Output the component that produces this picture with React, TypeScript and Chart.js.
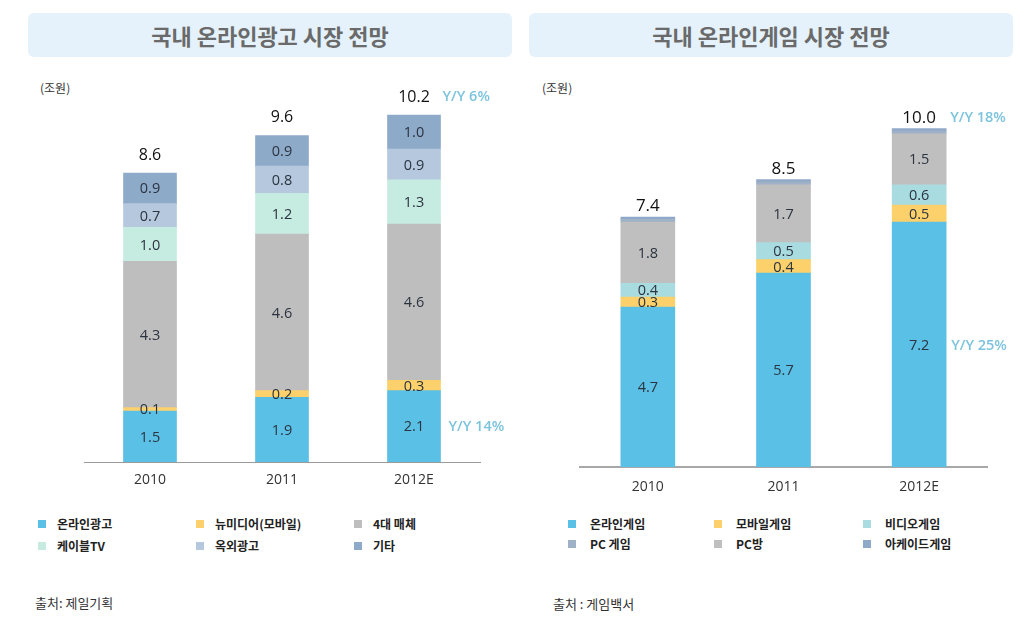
import React, { useEffect, useRef } from "react";
import { Chart, registerables } from "chart.js";
Chart.register(...registerables);

// ---------- data ----------
const years = ["2010", "2011", "2012E"];

// 국내 온라인광고 시장 (조원)
const adOnline = [1.5, 1.9, 2.1];
const adNewMedia = [0.1, 0.2, 0.3];
const adMajor4 = [4.3, 4.6, 4.6];
const adCable = [1.0, 1.2, 1.3];
const adOutdoor = [0.7, 0.8, 0.9];
const adEtc = [0.9, 0.9, 1.0];
const adTotals = ["8.6", "9.6", "10.2"];

// 국내 온라인게임 시장 (조원)
const gameOnline = [4.7, 5.7, 7.2];
const gameMobile = [0.3, 0.4, 0.5];
const gameVideo = [0.4, 0.5, 0.6];
const gamePcBang = [1.8, 1.7, 1.5];
const gamePc = [0.08, 0.08, 0.08];
const gameArcade = [0.07, 0.07, 0.07];
const gameTotals = ["7.4", "8.5", "10.0"];

const NUM = "'Open Sans', 'DejaVu Sans', sans-serif";
const KR = "'Noto Sans CJK KR', 'Noto Sans', sans-serif";

const segPlugin = {
  id: "segLabels",
  afterDatasetsDraw(chart: any, _a: any, opts: any) {
    const ctx = chart.ctx;
    ctx.save();
    ctx.textAlign = "center";
    ctx.textBaseline = "middle";
    const labeled: number[] = opts.labeled || [];
    chart.data.datasets.forEach((ds: any, di: number) => {
      if (labeled.indexOf(di) < 0) return;
      const meta = chart.getDatasetMeta(di);
      meta.data.forEach((bar: any, i: number) => {
        const v = ds.data[i];
        ctx.font = opts.segFont;
        ctx.fillStyle = opts.segColor;
        ctx.fillText(Number(v).toFixed(1), bar.x, (bar.y + bar.base) / 2 + 1);
      });
    });
    const last = chart.getDatasetMeta(chart.data.datasets.length - 1);
    last.data.forEach((bar: any, i: number) => {
      ctx.font = opts.totalFont;
      ctx.fillStyle = "#111";
      ctx.fillText(opts.totals[i], bar.x, bar.y - opts.totalOffset);
    });
    (opts.notes || []).forEach((n: any) => {
      const meta = chart.getDatasetMeta(n.dataset);
      const bar = meta.data[n.index];
      const yy = n.top ? bar.y - opts.totalOffset : (bar.y + bar.base) / 2 + 1;
      ctx.font = opts.noteFont;
      ctx.fillStyle = "#7cc3dd";
      ctx.textAlign = "left";
      ctx.fillText(n.text, bar.x + bar.width / 2 + n.dx, yy);
    });
    ctx.restore();
  },
};

type Series = { name: string; data: number[]; color: string };

function makeConfig(series: Series[], opts: any) {
  return {
    type: "bar" as const,
    data: {
      labels: years,
      datasets: series.map((s) => ({
        label: s.name,
        data: s.data,
        backgroundColor: s.color,
        borderWidth: 0,
        barThickness: opts.barThickness,
      })),
    },
    options: {
      responsive: false,
      animation: false as const,
      devicePixelRatio: 1,
      layout: { padding: { left: opts.padL, right: opts.padR, top: 0, bottom: 0 } },
      plugins: {
        legend: { display: false },
        tooltip: { enabled: false },
        title: { display: false },
        segLabels: opts.seg,
      },
      scales: {
        x: {
          stacked: true,
          grid: { display: false, drawTicks: false },
          border: { display: true, color: opts.axisColor, width: opts.axisWidth },
          ticks: { color: "#333", font: { family: NUM, size: 14 }, padding: opts.tickPad },
          afterFit: (scale: any) => {
            scale.height = 40;
          },
        },
        y: { stacked: true, display: false, min: 0, max: 11 },
      },
    },
    plugins: [segPlugin],
  };
}

function BarChart(props: { series: Series[]; opts: any; style: any; w: number; h: number }) {
  const ref = useRef<HTMLCanvasElement>(null);
  useEffect(() => {
    const c = new Chart(ref.current as HTMLCanvasElement, makeConfig(props.series, props.opts) as any);
    return () => c.destroy();
  }, []);
  return <canvas ref={ref} width={props.w} height={props.h} style={{ position: "absolute", ...props.style }} />;
}

const adSeries: Series[] = [
  { name: "온라인광고", data: adOnline, color: "#5bc0e5" },
  { name: "뉴미디어(모바일)", data: adNewMedia, color: "#fcd06a" },
  { name: "4대 매체", data: adMajor4, color: "#bfbebe" },
  { name: "케이블TV", data: adCable, color: "#c6ebe0" },
  { name: "옥외광고", data: adOutdoor, color: "#b6c8de" },
  { name: "기타", data: adEtc, color: "#8eaac9" },
];

const gameSeries: Series[] = [
  { name: "온라인게임", data: gameOnline, color: "#5bc0e5" },
  { name: "모바일게임", data: gameMobile, color: "#fcd06a" },
  { name: "비디오게임", data: gameVideo, color: "#a9dce0" },
  { name: "PC방", data: gamePcBang, color: "#c0bfbf" },
  { name: "PC 게임", data: gamePc, color: "#9fb1c6" },
  { name: "아케이드게임", data: gameArcade, color: "#91a9c8" },
];

const adLegendOrder = ["온라인광고", "뉴미디어(모바일)", "4대 매체", "케이블TV", "옥외광고", "기타"];
const gameLegendOrder = ["온라인게임", "모바일게임", "비디오게임", "PC 게임", "PC방", "아케이드게임"];

function Legend(props: { series: Series[]; order: string[]; cols: number[]; gap: number; rows: number[] }) {
  return (
    <>
      {props.order.map((name, k) => {
        const s = props.series.find((x) => x.name === name)!;
        const col = props.cols[k % 3];
        const row = props.rows[Math.floor(k / 3)];
        return (
          <React.Fragment key={name}>
            <div style={{ position: "absolute", left: col, top: row - 4, width: 8, height: 8, background: s.color }} />
            <div
              style={{
                position: "absolute",
                left: col + props.gap,
                top: row - 9,
                height: 18,
                lineHeight: "18px",
                fontFamily: KR,
                fontWeight: 700,
                fontSize: 12,
                color: "#222",
                whiteSpace: "nowrap",
              }}
            >
              {name}
            </div>
          </React.Fragment>
        );
      })}
    </>
  );
}

function TitleBox(props: { text: string; left: number; width: number }) {
  return (
    <div
      style={{
        position: "absolute",
        left: props.left,
        top: 13,
        width: props.width,
        height: 44,
        background: "#e5f2fb",
        borderRadius: 6,
        display: "flex",
        alignItems: "center",
        justifyContent: "center",
        fontFamily: KR,
        fontWeight: 700,
        fontSize: 22,
        color: "#6a6a6a",
      }}
    >
      {props.text}
    </div>
  );
}

function Small(props: { text: string; left: number; top: number; size: number }) {
  return (
    <div
      style={{
        position: "absolute",
        left: props.left,
        top: props.top - 9,
        height: 18,
        lineHeight: "18px",
        fontFamily: KR,
        fontSize: props.size,
        color: "#333",
        whiteSpace: "nowrap",
      }}
    >
      {props.text}
    </div>
  );
}

export default function App() {
  return (
    <div style={{ position: "absolute", left: 0, top: 0, width: 1024, height: 639, background: "#fff", overflow: "hidden" }}>
      <TitleBox text="국내 온라인광고 시장 전망" left={28} width={484} />
      <TitleBox text="국내 온라인게임 시장 전망" left={529} width={484} />
      <Small text="(조원)" left={40} top={88} size={12} />
      <Small text="(조원)" left={542} top={88} size={12} />

      <BarChart
        series={adSeries}
        w={485}
        h={414}
        style={{ left: 30, top: 88 }}
        opts={{
          padL: 54,
          padR: 35,
          barThickness: 53,
          axisColor: "#9a9a9a",
          axisWidth: 1,
          tickPad: 10,
          seg: {
            labeled: [0, 1, 2, 3, 4, 5],
            segFont: `14.5px ${NUM}`,
            segColor: "#2b3440",
            totals: adTotals,
            totalOffset: 18,
            totalFont: `16px ${NUM}`,
            noteFont: `600 14.5px ${NUM}`,
            notes: [
              { dataset: 5, index: 2, top: true, text: "Y/Y 6%", dx: 2 },
              { dataset: 0, index: 2, top: false, text: "Y/Y 14%", dx: 8 },
            ],
          },
        }}
      />

      <BarChart
        series={gameSeries}
        w={485}
        h={414}
        style={{ left: 530, top: 93 }}
        opts={{
          padL: 50,
          padR: 28,
          barThickness: 54,
          axisColor: "#a8a8a8",
          axisWidth: 2,
          tickPad: 12,
          seg: {
            labeled: [0, 1, 2, 3],
            segFont: `14.5px ${NUM}`,
            segColor: "#2b3440",
            totals: gameTotals,
            totalOffset: 11,
            totalFont: `17px ${NUM}`,
            noteFont: `600 14.5px ${NUM}`,
            notes: [
              { dataset: 5, index: 2, top: true, text: "Y/Y 18%", dx: 4 },
              { dataset: 0, index: 2, top: false, text: "Y/Y 25%", dx: 5 },
            ],
          },
        }}
      />

      <Legend series={adSeries} order={adLegendOrder} cols={[38, 196, 354]} gap={19} rows={[524, 546]} />
      <Legend series={gameSeries} order={gameLegendOrder} cols={[568, 714, 863]} gap={22} rows={[524, 544]} />

      <Small text="출처: 제일기획" left={35} top={603} size={13} />
      <Small text="출처 : 게임백서" left={553} top={604} size={13} />
    </div>
  );
}
